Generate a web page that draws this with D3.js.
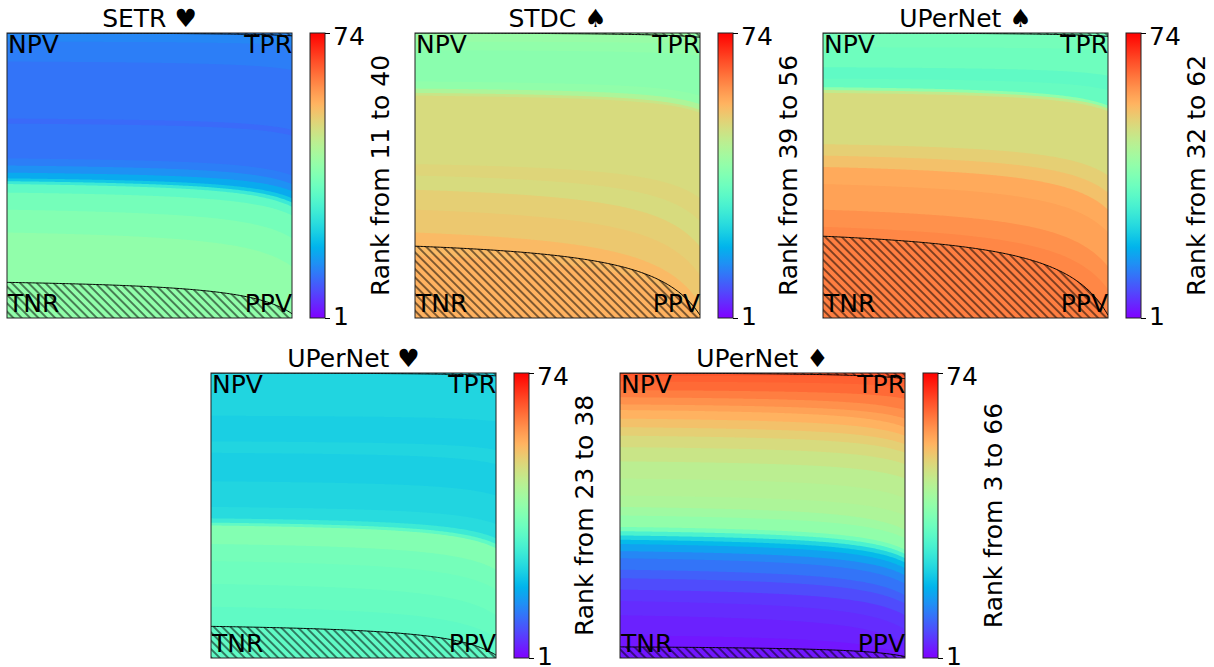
<!DOCTYPE html>
<html><head><meta charset="utf-8">
<script src="https://cdn.jsdelivr.net/npm/d3@7"></script>
<style>body{margin:0;background:#fff} text{font-family:"DejaVu Sans",sans-serif;fill:#000}</style>
</head><body><svg id="c" width="1214" height="667"></svg>
<script>
// ---------------- data ----------------
const titles = ["SETR ♥", "STDC ♠", "UPerNet ♠", "UPerNet ♥", "UPerNet ♦"];
const rankMin = [11, 39, 32, 23, 3];
const rankMax = [40, 56, 62, 38, 66];
const rankDomain = [1, 74];
const tickLabels = [1, 74];
const cornerLabels = ["NPV", "TPR", "TNR", "PPV"];

// rank of each band (top -> bottom) and its upper boundary at the left / right edge (fraction of height)
const setrRanks = [14, 13, 12, 11, 12, 13, 15, 18, 22, 28, 33, 36, 38, 40];
const setrLeft  = [0, 0.03, 0.10, 0.30, 0.318, 0.44, 0.465, 0.49, 0.51, 0.52, 0.53, 0.56, 0.62, 0.70];
const setrRight = [0, 0.045, 0.13, 0.34, 0.36, 0.50, 0.53, 0.555, 0.58, 0.595, 0.61, 0.64, 0.72, 0.82];

const stdcRanks = [41, 40, 39, 40, 44, 48, 50, 51, 50, 52, 53, 55, 56];
const stdcLeft  = [0, 0.03, 0.06, 0.17, 0.195, 0.21, 0.22, 0.46, 0.50, 0.55, 0.62, 0.70, 0.78];
const stdcRight = [0, 0.04, 0.08, 0.22, 0.25, 0.27, 0.28, 0.58, 0.66, 0.75, 0.85, 0.95, 1.0];

const upSpadeRanks = [36, 35, 33, 34, 40, 47, 50, 52, 54, 57, 58, 60, 61, 62];
const upSpadeLeft  = [0, 0.05, 0.12, 0.16, 0.19, 0.20, 0.21, 0.39, 0.43, 0.47, 0.53, 0.62, 0.68, 0.72];
const upSpadeRight = [0, 0.06, 0.15, 0.20, 0.255, 0.265, 0.275, 0.50, 0.56, 0.62, 0.70, 0.82, 0.90, 0.98];

const upHeartRanks = [24, 23, 24, 23, 24, 25, 28, 33, 38, 36, 35, 34, 33];
const upHeartLeft  = [0, 0.15, 0.24, 0.28, 0.38, 0.47, 0.51, 0.525, 0.535, 0.60, 0.66, 0.74, 0.82];
const upHeartRight = [0, 0.17, 0.27, 0.32, 0.43, 0.53, 0.58, 0.60, 0.615, 0.69, 0.76, 0.85, 0.93];

const upDiamondRanks = [66, 65, 64, 62, 60, 58, 56, 54, 52, 50, 48, 46, 45, 44, 42, 40, 36, 30, 24, 20, 17, 14, 12, 10, 8, 6, 5, 4, 3];
const upDiamondLeft  = [0, 0.01, 0.03, 0.06, 0.085, 0.11, 0.13, 0.16, 0.19, 0.22, 0.26, 0.31, 0.37, 0.43, 0.47, 0.50, 0.54, 0.555, 0.57, 0.585, 0.60, 0.625, 0.65, 0.69, 0.72, 0.76, 0.80, 0.85, 0.92];
const upDiamondRight = [0, 0.015, 0.05, 0.09, 0.13, 0.16, 0.19, 0.22, 0.25, 0.28, 0.32, 0.37, 0.44, 0.50, 0.55, 0.58, 0.62, 0.635, 0.65, 0.665, 0.685, 0.71, 0.74, 0.78, 0.81, 0.85, 0.90, 0.95, 0.99];

// hatched regions: bottom region upper boundary (left/right), thin top sliver lower boundary at right
const hatchLeft = [0.875, 0.748, 0.713, 0.889, 0.961];
const hatchRight = [0.985, 0.99, 0.99, 0.99, 0.995];
const topHatchRight = [0.01, 0.015, 0.012, 0.01, 0.02];

const bandRanks = [setrRanks, stdcRanks, upSpadeRanks, upHeartRanks, upDiamondRanks];
const bandLeft = [setrLeft, stdcLeft, upSpadeLeft, upHeartLeft, upDiamondLeft];
const bandRight = [setrRight, stdcRight, upSpadeRight, upHeartRight, upDiamondRight];

// ---------------- layout ----------------
const panelOrigin = [[7, 33], [415, 33], [823, 33], [211, 373], [620, 373]];
const PW = 285, PH = 285;
const FS = 25;

// matplotlib "rainbow" colormap
function rainbow(t) {
  const r = Math.min(1, Math.abs(2 * t - 0.5));
  const g = Math.max(0, Math.sin(Math.PI * t));
  const b = Math.max(0, Math.cos(Math.PI * t / 2));
  return d3.rgb(r * 255, g * 255, b * 255).formatHex();
}
const color = d3.scaleSequential(rainbow).domain(rankDomain);

const svg = d3.select("#c");
const defs = svg.append("defs");

// hatch pattern "\\"
const pat = defs.append("pattern").attr("id", "hatch").attr("patternUnits", "userSpaceOnUse")
  .attr("width", 5.9).attr("height", 10).attr("patternTransform", "rotate(-45)");
pat.append("line").attr("x1", 2.95).attr("y1", -1).attr("x2", 2.95).attr("y2", 11)
  .attr("stroke", "#000").attr("stroke-width", 1);

// colorbar gradient
const grad = defs.append("linearGradient").attr("id", "cbar").attr("x1", 0).attr("y1", 1).attr("x2", 0).attr("y2", 0);
d3.range(rankDomain[0], rankDomain[1] + 1).forEach(r => {
  grad.append("stop").attr("offset", (r - rankDomain[0]) / (rankDomain[1] - rankDomain[0])).attr("stop-color", color(r));
});

const C = 0.16;
const shape = t => (C * t) / (1 - t + C * t);
const ts = d3.range(0, 1.0001, 0.005);

titles.forEach((title, p) => {
  const [L, T] = panelOrigin[p];
  const x = d3.scaleLinear().domain([0, 1]).range([L, L + PW]);
  const y = d3.scaleLinear().domain([0, 1]).range([T, T + PH]).clamp(true);
  const g = svg.append("g");

  defs.append("clipPath").attr("id", "clip" + p).append("rect")
    .attr("x", L).attr("y", T).attr("width", PW).attr("height", PH);
  const plot = g.append("g").attr("clip-path", `url(#clip${p})`);

  const ranks = bandRanks[p], lefts = bandLeft[p], rights = bandRight[p];
  ranks.forEach((rk, i) => {
    const bnd = t => lefts[i] + (rights[i] - lefts[i]) * shape(t);
    const area = d3.area().x(t => x(t)).y0(y(1)).y1(t => y(bnd(t)));
    plot.append("path").attr("d", area(ts)).attr("fill", color(rk));
  });

  // bottom hatch
  const hb = t => hatchLeft[p] + (hatchRight[p] - hatchLeft[p]) * shape(t);
  plot.append("path").attr("d", d3.area().x(t => x(t)).y0(y(1)).y1(t => y(hb(t)))(ts))
    .attr("fill", "url(#hatch)");
  plot.append("path").attr("d", d3.line().x(t => x(t)).y(t => y(hb(t)))(ts))
    .attr("fill", "none").attr("stroke", "#000").attr("stroke-width", 1);
  // top hatch sliver
  const ht = t => topHatchRight[p] * shape(t);
  plot.append("path").attr("d", d3.area().x(t => x(t)).y0(y(0)).y1(t => y(ht(t)))(ts))
    .attr("fill", "url(#hatch)");
  plot.append("path").attr("d", d3.line().x(t => x(t)).y(t => y(ht(t)))(ts))
    .attr("fill", "none").attr("stroke", "#000").attr("stroke-width", 1);

  // frame
  g.append("rect").attr("x", L).attr("y", T).attr("width", PW).attr("height", PH)
    .attr("fill", "none").attr("stroke", "#222").attr("stroke-width", 1);

  // corner labels
  g.append("text").attr("x", L + 1).attr("y", T + 20).attr("font-size", FS).text(cornerLabels[0]);
  g.append("text").attr("x", L + PW).attr("y", T + 20).attr("font-size", FS).attr("text-anchor", "end").text(cornerLabels[1]);
  g.append("text").attr("x", L + 1).attr("y", T + PH - 6).attr("font-size", FS).text(cornerLabels[2]);
  g.append("text").attr("x", L + PW).attr("y", T + PH - 6).attr("font-size", FS).attr("text-anchor", "end").text(cornerLabels[3]);

  // title
  g.append("text").attr("x", L + PW / 2).attr("y", T - 6).attr("font-size", FS)
    .attr("text-anchor", "middle").text(title);

  // colorbar
  const cbL = L + PW + 18, cbW = 15;
  const cy = d3.scaleLinear().domain(rankDomain).range([T + PH, T]);
  g.append("rect").attr("x", cbL).attr("y", T).attr("width", cbW).attr("height", PH)
    .attr("fill", "url(#cbar)").attr("stroke", "#222").attr("stroke-width", 1);
  const axis = d3.axisRight(cy).tickValues(tickLabels).tickSize(5).tickPadding(3).tickFormat(d3.format("d"));
  const ax = g.append("g").attr("transform", `translate(${cbL + cbW},0)`).call(axis);
  ax.select(".domain").remove();
  ax.selectAll("text").attr("font-size", FS).attr("font-family", "DejaVu Sans").attr("fill", "#000")
    .attr("dy", (d) => d === rankDomain[1] ? "0.45em" : "0.24em");
  ax.selectAll("line").attr("stroke", "#000");

  // colorbar label
  g.append("text").attr("transform", `translate(${L + PW + 88},${T + PH / 2}) rotate(-90)`)
    .attr("font-size", FS).attr("text-anchor", "middle").attr("dy", "0.36em")
    .text(`Rank from ${rankMin[p]} to ${rankMax[p]}`);
});
</script></body></html>
